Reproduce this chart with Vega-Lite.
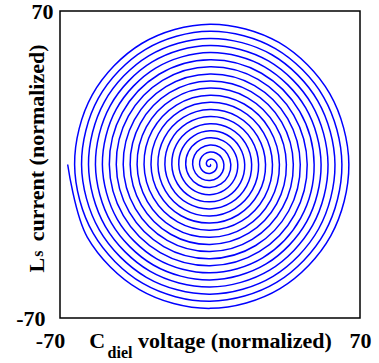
{
"$schema": "https://vega.github.io/schema/vega-lite/v6.json",
"width": 300, "height": 307,
"autosize": "none",
"padding": {"left": 60, "top": 11, "right": 19, "bottom": 45},
"background": "white",
"config": {"view": {"stroke": "black", "strokeWidth": 1.5}},
"layer": [
{
"data": {"values": [
{"i":0,"x":0,"y":0},{"i":1,"x":0.23,"y":-0.14},{"i":2,"x":0.27,"y":-0.47},{"i":3,"x":0,"y":-0.81},{"i":4,"x":-0.54,"y":-0.94},{"i":5,"x":-1.17,"y":-0.68},{"i":6,"x":-1.62,"y":0},{"i":7,"x":-1.64,"y":0.95},{"i":8,"x":-1.08,"y":1.87},{"i":9,"x":0,"y":2.43},{"i":10,"x":1.35,"y":2.34},{"i":11,"x":2.57,"y":1.49},
{"i":12,"x":3.24,"y":0},{"i":13,"x":3.04,"y":-1.76},{"i":14,"x":1.89,"y":-3.27},{"i":15,"x":0,"y":-4.05},{"i":16,"x":-2.16,"y":-3.74},{"i":17,"x":-3.98,"y":-2.3},{"i":18,"x":-4.86,"y":0},{"i":19,"x":-4.44,"y":2.57},{"i":20,"x":-2.7,"y":4.68},{"i":21,"x":0,"y":5.67},{"i":22,"x":2.97,"y":5.14},{"i":23,"x":5.38,"y":3.11},
{"i":24,"x":6.48,"y":0},{"i":25,"x":5.85,"y":-3.38},{"i":26,"x":3.51,"y":-6.08},{"i":27,"x":0,"y":-7.29},{"i":28,"x":-3.78,"y":-6.55},{"i":29,"x":-6.78,"y":-3.92},{"i":30,"x":-8.1,"y":0},{"i":31,"x":-7.25,"y":4.19},{"i":32,"x":-4.32,"y":7.48},{"i":33,"x":0,"y":8.91},{"i":34,"x":4.59,"y":7.95},{"i":35,"x":8.18,"y":4.73},
{"i":36,"x":9.72,"y":0},{"i":37,"x":8.65,"y":-5.0},{"i":38,"x":5.13,"y":-8.89},{"i":39,"x":0,"y":-10.53},{"i":40,"x":-5.4,"y":-9.35},{"i":41,"x":-9.59,"y":-5.54},{"i":42,"x":-11.34,"y":0},{"i":43,"x":-10.05,"y":5.81},{"i":44,"x":-5.94,"y":10.29},{"i":45,"x":0,"y":12.15},{"i":46,"x":6.21,"y":10.76},{"i":47,"x":10.99,"y":6.35},
{"i":48,"x":12.96,"y":0},{"i":49,"x":11.46,"y":-6.62},{"i":50,"x":6.75,"y":-11.69},{"i":51,"x":0,"y":-13.77},{"i":52,"x":-7.02,"y":-12.16},{"i":53,"x":-12.39,"y":-7.16},{"i":54,"x":-14.58,"y":0},{"i":55,"x":-12.86,"y":7.43},{"i":56,"x":-7.56,"y":13.09},{"i":57,"x":0,"y":15.39},{"i":58,"x":7.83,"y":13.56},{"i":59,"x":13.8,"y":7.97},
{"i":60,"x":16.2,"y":0},{"i":61,"x":14.26,"y":-8.24},{"i":62,"x":8.37,"y":-14.5},{"i":63,"x":0,"y":-17.01},{"i":64,"x":-8.64,"y":-14.96},{"i":65,"x":-15.2,"y":-8.78},{"i":66,"x":-17.82,"y":0},{"i":67,"x":-15.67,"y":9.05},{"i":68,"x":-9.18,"y":15.9},{"i":69,"x":0,"y":18.63},{"i":70,"x":9.45,"y":16.37},{"i":71,"x":16.6,"y":9.59},
{"i":72,"x":19.44,"y":0},{"i":73,"x":17.07,"y":-9.86},{"i":74,"x":9.99,"y":-17.3},{"i":75,"x":0,"y":-20.25},{"i":76,"x":-10.26,"y":-17.77},{"i":77,"x":-18.0,"y":-10.4},{"i":78,"x":-21.06,"y":0},{"i":79,"x":-18.47,"y":10.67},{"i":80,"x":-10.8,"y":18.71},{"i":81,"x":0,"y":21.87},{"i":82,"x":11.07,"y":19.17},{"i":83,"x":19.41,"y":11.21},
{"i":84,"x":22.68,"y":0},{"i":85,"x":19.88,"y":-11.48},{"i":86,"x":11.61,"y":-20.11},{"i":87,"x":0,"y":-23.49},{"i":88,"x":-11.88,"y":-20.58},{"i":89,"x":-20.81,"y":-12.02},{"i":90,"x":-24.3,"y":0},{"i":91,"x":-21.28,"y":12.29},{"i":92,"x":-12.42,"y":21.51},{"i":93,"x":0,"y":25.11},{"i":94,"x":12.69,"y":21.98},{"i":95,"x":22.21,"y":12.83},
{"i":96,"x":25.92,"y":0},{"i":97,"x":22.68,"y":-13.1},{"i":98,"x":13.23,"y":-22.91},{"i":99,"x":0,"y":-26.73},{"i":100,"x":-13.5,"y":-23.38},{"i":101,"x":-23.62,"y":-13.64},{"i":102,"x":-27.54,"y":0},{"i":103,"x":-24.08,"y":13.91},{"i":104,"x":-14.04,"y":24.32},{"i":105,"x":0,"y":28.35},{"i":106,"x":14.31,"y":24.79},{"i":107,"x":25.02,"y":14.45},
{"i":108,"x":29.16,"y":0},{"i":109,"x":25.49,"y":-14.72},{"i":110,"x":14.85,"y":-25.72},{"i":111,"x":0,"y":-29.97},{"i":112,"x":-15.12,"y":-26.19},{"i":113,"x":-26.42,"y":-15.26},{"i":114,"x":-30.78,"y":0},{"i":115,"x":-26.89,"y":15.53},{"i":116,"x":-15.66,"y":27.12},{"i":117,"x":0,"y":31.59},{"i":118,"x":15.93,"y":27.59},{"i":119,"x":27.83,"y":16.07},
{"i":120,"x":32.4,"y":0},{"i":121,"x":28.29,"y":-16.34},{"i":122,"x":16.47,"y":-28.53},{"i":123,"x":0,"y":-33.21},{"i":124,"x":-16.74,"y":-28.99},{"i":125,"x":-29.23,"y":-16.88},{"i":126,"x":-34.02,"y":0},{"i":127,"x":-29.7,"y":17.15},{"i":128,"x":-17.28,"y":29.93},{"i":129,"x":0,"y":34.83},{"i":130,"x":17.55,"y":30.4},{"i":131,"x":30.63,"y":17.69},
{"i":132,"x":35.64,"y":0},{"i":133,"x":31.1,"y":-17.96},{"i":134,"x":18.09,"y":-31.33},{"i":135,"x":0,"y":-36.45},{"i":136,"x":-18.36,"y":-31.8},{"i":137,"x":-32.03,"y":-18.5},{"i":138,"x":-37.26,"y":0},{"i":139,"x":-32.5,"y":18.77},{"i":140,"x":-18.9,"y":32.74},{"i":141,"x":0,"y":38.07},{"i":142,"x":19.17,"y":33.2},{"i":143,"x":33.44,"y":19.31},
{"i":144,"x":38.88,"y":0},{"i":145,"x":33.9,"y":-19.58},{"i":146,"x":19.71,"y":-34.14},{"i":147,"x":0,"y":-39.69},{"i":148,"x":-19.98,"y":-34.61},{"i":149,"x":-34.84,"y":-20.12},{"i":150,"x":-40.5,"y":0},{"i":151,"x":-35.31,"y":20.39},{"i":152,"x":-20.52,"y":35.54},{"i":153,"x":0,"y":41.31},{"i":154,"x":20.79,"y":36.01},{"i":155,"x":36.24,"y":20.93},
{"i":156,"x":42.12,"y":0},{"i":157,"x":36.71,"y":-21.2},{"i":158,"x":21.33,"y":-36.94},{"i":159,"x":0,"y":-42.93},{"i":160,"x":-21.6,"y":-37.41},{"i":161,"x":-37.65,"y":-21.74},{"i":162,"x":-43.74,"y":0},{"i":163,"x":-38.11,"y":22.01},{"i":164,"x":-22.14,"y":38.35},{"i":165,"x":0,"y":44.55},{"i":166,"x":22.41,"y":38.81},{"i":167,"x":39.05,"y":22.55},
{"i":168,"x":45.36,"y":0},{"i":169,"x":39.52,"y":-22.82},{"i":170,"x":22.95,"y":-39.75},{"i":171,"x":0,"y":-46.17},{"i":172,"x":-23.22,"y":-40.22},{"i":173,"x":-40.45,"y":-23.36},{"i":174,"x":-46.98,"y":0},{"i":175,"x":-40.92,"y":23.63},{"i":176,"x":-23.76,"y":41.15},{"i":177,"x":0,"y":47.79},{"i":178,"x":24.03,"y":41.62},{"i":179,"x":41.85,"y":24.17},
{"i":180,"x":48.6,"y":0},{"i":181,"x":42.32,"y":-24.44},{"i":182,"x":24.57,"y":-42.56},{"i":183,"x":0,"y":-49.41},{"i":184,"x":-24.84,"y":-43.02},{"i":185,"x":-43.26,"y":-24.98},{"i":186,"x":-50.22,"y":0},{"i":187,"x":-43.72,"y":25.25},{"i":188,"x":-25.38,"y":43.96},{"i":189,"x":0,"y":51.03},{"i":190,"x":25.65,"y":44.43},{"i":191,"x":44.66,"y":25.79},
{"i":192,"x":51.84,"y":0},{"i":193,"x":45.13,"y":-26.06},{"i":194,"x":26.19,"y":-45.36},{"i":195,"x":0,"y":-52.65},{"i":196,"x":-26.46,"y":-45.83},{"i":197,"x":-46.06,"y":-26.6},{"i":198,"x":-53.46,"y":0},{"i":199,"x":-46.53,"y":26.87},{"i":200,"x":-27.0,"y":46.76},{"i":201,"x":0,"y":54.27},{"i":202,"x":27.27,"y":47.23},{"i":203,"x":47.47,"y":27.41},
{"i":204,"x":55.08,"y":0},{"i":205,"x":47.93,"y":-27.68},{"i":206,"x":27.81,"y":-48.17},{"i":207,"x":0,"y":-55.89},{"i":208,"x":-28.08,"y":-48.64},{"i":209,"x":-48.87,"y":-28.22},{"i":210,"x":-56.7,"y":0},{"i":211,"x":-49.34,"y":28.49},{"i":212,"x":-28.62,"y":49.57},{"i":213,"x":0,"y":57.51},{"i":214,"x":28.89,"y":50.04},{"i":215,"x":50.27,"y":29.03},
{"i":216,"x":58.32,"y":0},{"i":217,"x":50.74,"y":-29.3},{"i":218,"x":29.43,"y":-50.97},{"i":219,"x":0,"y":-59.13},{"i":220,"x":-29.7,"y":-51.44},{"i":221,"x":-51.67,"y":-29.84},{"i":222,"x":-59.94,"y":0},{"i":223,"x":-52.14,"y":30.11},{"i":224,"x":-30.24,"y":52.38},{"i":225,"x":0,"y":60.75},{"i":226,"x":30.51,"y":52.84},{"i":227,"x":53.08,"y":30.65},
{"i":228,"x":61.56,"y":0},{"i":229,"x":53.55,"y":-30.92},{"i":230,"x":31.05,"y":-53.78},{"i":231,"x":0,"y":-62.37},{"i":232,"x":-31.32,"y":-54.25},{"i":233,"x":-54.48,"y":-31.46},{"i":234,"x":-63.18,"y":0},{"i":235,"x":-54.95,"y":31.73},{"i":236,"x":-31.86,"y":55.18},{"i":237,"x":0,"y":63.99},{"i":238,"x":32.13,"y":55.65},{"i":239,"x":55.88,"y":32.27},
{"i":240,"x":64.8,"y":0},{"i":241,"x":56.35,"y":-32.54},{"i":242,"x":32.67,"y":-56.58},{"i":243,"x":0,"y":-65.61},{"i":244,"x":-32.94,"y":-57.05},{"i":245,"x":-57.29,"y":-33.08},{"i":246,"x":-66.42,"y":0}
]},
"mark": {"type": "line", "interpolate": "cardinal", "color": "#0000ff", "strokeWidth": 1.5},
"encoding": {
"x": {"field": "x", "type": "quantitative", "scale": {"domain": [-70, 70], "nice": false, "zero": false},
 "axis": {"values": [-70, 70], "title": "C\u00a0\u00a0\u00a0\u00a0\u00a0\u00a0voltage (normalized)", "grid": false, "domain": false, "ticks": false, "tickSize": 0,
  "labelExpr": "datum.value < 0 ? '-70' : '70'",
  "labelFont": "Liberation Serif", "labelFontWeight": "bold", "labelFontSize": 22, "labelColor": "black", "labelPadding": 29, "labelBaseline": "alphabetic", "labelFlush": false,
  "labelOffset": {"condition": {"test": "datum.value < 0", "value": -10}, "value": 0},
  "titleFont": "Liberation Serif", "titleFontWeight": "bold", "titleFontSize": 22, "titleColor": "black", "titleY": 29, "titleBaseline": "alphabetic"}},
"y": {"field": "y", "type": "quantitative", "scale": {"domain": [-70, 70], "nice": false, "zero": false},
 "axis": {"values": [-70, 70], "title": "L\u00a0\u00a0\u00a0current (normalized)", "grid": false, "domain": false, "ticks": false, "tickSize": 0,
  "labelExpr": "datum.value < 0 ? '-70' : '70'",
  "labelFont": "Liberation Serif", "labelFontWeight": "bold", "labelFontSize": 22, "labelColor": "black", "labelAlign": "right", "labelBaseline": "middle",
  "labelPadding": {"condition": {"test": "datum.value < 0", "value": 15}, "value": 7},
  "titleFont": "Liberation Serif", "titleFontWeight": "bold", "titleFontSize": 22, "titleColor": "black", "titleAngle": 270, "titleX": -17, "titleY": 147, "titleAlign": "center", "titleBaseline": "alphabetic"}},
"order": {"field": "i", "type": "quantitative"}
}
},
{
"data": {"values": [{"t": "diel"}]},
"mark": {"type": "text", "font": "Liberation Serif", "fontWeight": "bold", "fontSize": 16, "color": "black", "align": "center", "baseline": "alphabetic", "dy": 40, "clip": false},
"encoding": {"x": {"datum": -42, "type": "quantitative"}, "y": {"datum": -70, "type": "quantitative"}, "text": {"field": "t"}}
},
{
"data": {"values": [{"t": "s"}]},
"mark": {"type": "text", "font": "Liberation Serif", "fontWeight": "bold", "fontSize": 16, "color": "black", "align": "center", "baseline": "middle", "angle": 270, "dy": -22, "clip": false},
"encoding": {"x": {"datum": -70, "type": "quantitative"}, "y": {"datum": -40.6, "type": "quantitative"}, "text": {"field": "t"}}
}
]
}
